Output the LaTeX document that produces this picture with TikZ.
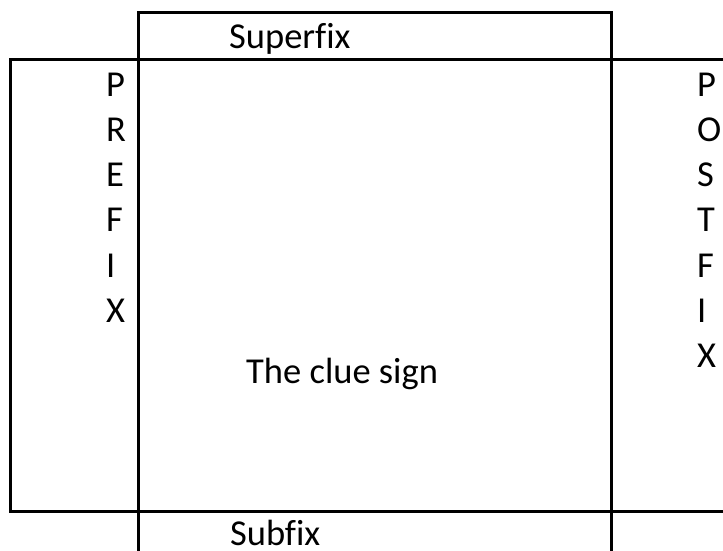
\documentclass[tikz,border=0pt]{standalone}
\usepackage{fontspec}
\setmainfont{Carlito}[Ligatures={NoCommon}]
\begin{document}
\begin{tikzpicture}[x=1pt,y=-1pt,
  rule/.style={line width=3pt,line cap=rect},
  lbl/.style={anchor=base west,inner sep=0pt,font=\fontsize{36.5}{45}\selectfont}]
\useasboundingbox[fill=white] (0,0) rectangle (723,551);
% grid coordinates
\coordinate (tl) at (138,13);
\coordinate (tr) at (611,13);
\coordinate (ol) at (10,59.5);
\coordinate (or) at (723,59.5);
\coordinate (bl) at (10,511.7);
\coordinate (br) at (723,511.7);
\coordinate (cbl) at (138,551);
\coordinate (cbr) at (611,551);
% lines
\draw[rule] (tl) -- (tr);
\draw[rule] (tl) -- (cbl);
\draw[rule] (tr) -- (cbr);
\draw[rule] (ol) -- (or);
\draw[rule] (bl) -- (br);
\draw[rule] (ol) -- (bl);
% texts
\node[lbl] (sup) at (229,49) {Superfix};
\node[lbl] (clue) at (246,383) {The clue sign};
\node[lbl] (sub) at (230,545) {Subfix};
\foreach \c [count=\i] in {P,R,E,F,I,X}
  \node[lbl] (pre\i) at (106,{96+45.3*(\i-1)}) {\c};
\foreach \c [count=\i] in {P,O,S,T,F,I,X}
  \node[lbl] (post\i) at (697,{96+45.3*(\i-1)}) {\c};
\end{tikzpicture}
\end{document}
